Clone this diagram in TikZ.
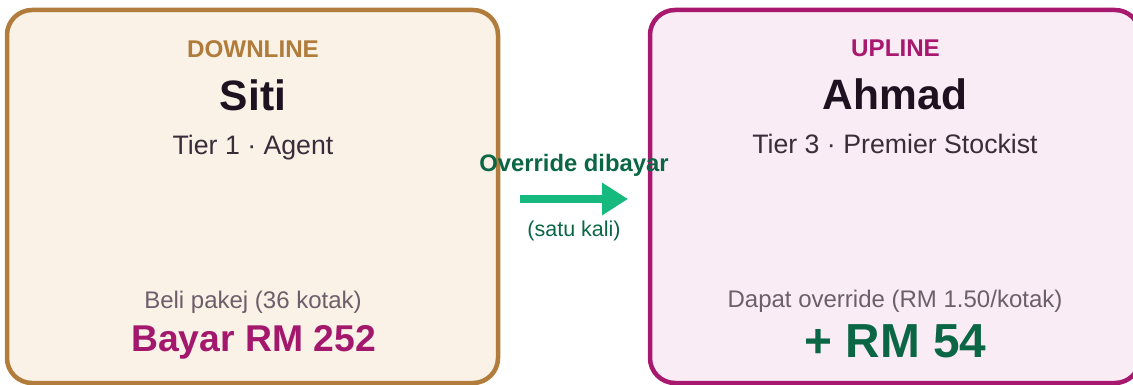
\documentclass[tikz,border=0pt]{standalone}
\usepackage{fontspec}
\setmainfont{Liberation Sans}
\usetikzlibrary{arrows.meta}
\definecolor{lfill}{HTML}{FAF1E7}
\definecolor{lborder}{HTML}{B27D3C}
\definecolor{rfill}{HTML}{F9ECF4}
\definecolor{rborder}{HTML}{A8186E}
\definecolor{magtext}{HTML}{A3186C}
\definecolor{browntext}{HTML}{B07C3B}
\definecolor{nametext}{HTML}{1E1220}
\definecolor{tiertext}{HTML}{3A2C38}
\definecolor{graytext}{HTML}{6E5E6A}
\definecolor{dgreen}{HTML}{0B6645}
\definecolor{agreen}{HTML}{16BA7E}
\newcommand{\fsz}[1]{\fontsize{#1}{#1}\selectfont}
\tikzset{
  card/.style={draw, line width=4.5pt, rounded corners=25pt, inner sep=0pt},
  lbl/.style={anchor=base, inner sep=0pt, font=\fsz{24.2}\bfseries},
  namelbl/.style={anchor=base, inner sep=0pt, font=\fsz{42.5}\bfseries, text=nametext},
  tierlbl/.style={anchor=base, inner sep=0pt, font=\fsz{26.7}, text=tiertext},
  graylbl/.style={anchor=base, inner sep=0pt, font=\fsz{24}, text=graytext},
  amount/.style={anchor=base, inner sep=0pt, font=\bfseries}
}
\begin{document}
\begin{tikzpicture}[x=1pt,y=-1pt]
\useasboundingbox (0,0) rectangle (1133,385);
% cards
\node[card, fill=lfill, draw=lborder, minimum width=491pt, minimum height=373pt] (left) at (252.5,196.5) {};
\node[card, fill=rfill, draw=rborder, minimum width=490pt, minimum height=373pt] (right) at (895,196.5) {};
% left texts
\node[lbl, text=browntext] (dl) at (253,57.5) {DOWNLINE};
\node[namelbl] (siti) at (253,111) {Siti};
\node[tierlbl] (t1) at (253,155) {Tier 1 · Agent};
\node[graylbl] (beli) at (253,308) {Beli pakej (36 kotak)};
\node[amount, font=\fsz{37.3}\bfseries, text=magtext] (bayar) at (253.5,351.5) {Bayar RM 252};
% right texts
\node[lbl, text=rborder] (ul) at (895.5,57) {UPLINE};
\node[namelbl] (ahmad) at (895,110) {Ahmad};
\node[tierlbl] (t3) at (895,154) {Tier 3 · Premier Stockist};
\node[graylbl] (dapat) at (895,307) {Dapat override (RM 1.50/kotak)};
\node[amount, font=\fsz{47.8}\bfseries, text=dgreen] (rm54) at (895.5,357) {+ RM 54};
% arrow
\coordinate (arrS) at (520,199);
\coordinate (arrE) at (628,199);
\draw[agreen, line width=7.5pt, -{Triangle[length=26pt,width=31pt]}] (arrS) -- (arrE);
\node[anchor=base, inner sep=0pt, font=\fsz{23.8}\bfseries, text=dgreen] (ov) at (574,171.5) {Override dibayar};
\node[anchor=base, inner sep=0pt, font=\fsz{21.5}, text=dgreen] (sk) at (574,236) {(satu kali)};
\end{tikzpicture}
\end{document}
